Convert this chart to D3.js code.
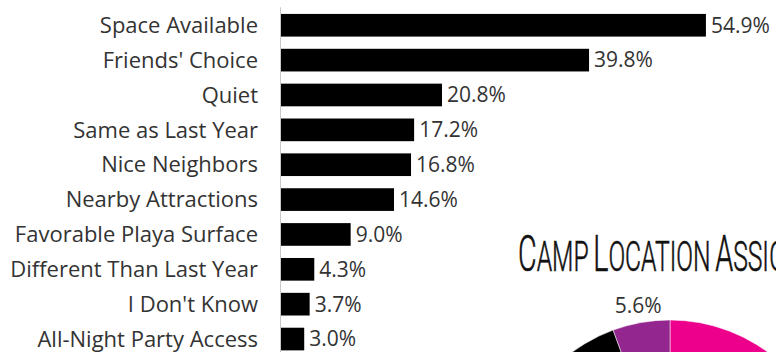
<!DOCTYPE html>
<html>
<head>
<meta charset="utf-8">
<script src="https://cdn.jsdelivr.net/npm/d3@7"></script>
<style>
  html, body { margin: 0; padding: 0; background: #fff; }
  svg { display: block; overflow: hidden; }
</style>
</head>
<body>
<svg id="chart" width="776" height="352"></svg>
<script>
// Reasons for choosing a camp location (share of respondents, %)
const categories = [
  "Space Available", "Friends' Choice", "Quiet", "Same as Last Year",
  "Nice Neighbors", "Nearby Attractions", "Favorable Playa Surface",
  "Different Than Last Year", "I Don't Know", "All-Night Party Access"
];
const values = [54.9, 39.8, 20.8, 17.2, 16.8, 14.6, 9.0, 4.3, 3.7, 3.0];

// How camp locations were assigned (%)
const pieCategories = ["Placement", "Self-Placed", "Other"];
const pieValues = [70.1, 24.3, 5.6];
const pieColors = ["#ec008c", "#000000", "#93278f"];

const titleText = "Camp Location Assignment";

const svg = d3.select("#chart");
const textColor = "#333";
const font = "'Open Sans', 'Noto Sans', sans-serif";
const W = 776, H = 352;

// ---- Horizontal bar chart ----
const x = d3.scaleLinear().domain([0, 55]).range([281, 706.7]);
const y = d3.scaleBand().domain(categories).range([7.3, 357])
  .paddingInner(0.35).paddingOuter(0.19);

const rows = categories.map((c, i) => ({ c, v: values[i] }));

svg.append("line")
  .attr("x1", 280.5).attr("x2", 280.5)
  .attr("y1", 7.3).attr("y2", H)
  .attr("stroke", "#c8c8c8").attr("stroke-width", 1);

svg.append("g").selectAll("rect").data(rows).join("rect")
  .attr("x", x(0))
  .attr("y", d => y(d.c))
  .attr("width", d => x(d.v) - x(0))
  .attr("height", y.bandwidth())
  .attr("fill", "#000");

svg.append("g").selectAll("text").data(rows).join("text")
  .attr("x", 258)
  .attr("y", d => y(d.c) + y.bandwidth() / 2)
  .attr("dy", "0.35em")
  .attr("text-anchor", "end")
  .attr("font-family", font)
  .attr("font-size", 22)
  .attr("fill", textColor)
  .text(d => d.c);

svg.append("g").selectAll("text").data(rows).join("text")
  .attr("x", d => x(d.v) + 5)
  .attr("y", d => y(d.c) + y.bandwidth() / 2)
  .attr("dy", "0.35em")
  .attr("font-family", font)
  .attr("font-size", 21)
  .attr("fill", textColor)
  .text(d => d.v.toFixed(1) + "%");

// ---- Pie chart title (small caps, condensed) ----
const titleG = svg.append("g");
function buildTitle(sel, str) {
  const t = sel.append("text")
    .attr("font-family", "Roboto, 'Liberation Sans Narrow', sans-serif")
    .attr("font-weight", 300)
    .attr("word-spacing", -4)
    .attr("stroke", "#111")
    .attr("stroke-width", 0.6)
    .attr("fill", "#111");
  str.split(" ").forEach((word, wi) => {
    const U = word.toUpperCase();
    t.append("tspan").attr("font-size", 50).text((wi > 0 ? " " : "") + U[0]);
    if (U.length > 1) t.append("tspan").attr("font-size", 43).text(U.slice(1));
  });
  return t;
}
const probe = buildTitle(svg, "Camp Location Assi");
const probeW = probe.node().getComputedTextLength();
probe.remove();
const sx = 251 / probeW;
titleG.attr("transform", `translate(518,270.7) scale(${sx},1)`);
buildTitle(titleG, titleText);

// ---- Pie chart ----
const cx = 670, cy = 485, r = 165;
const pie = d3.pie().sort(null).value(d => d.v);
const arcs = pie(pieCategories.map((c, i) => ({ c, v: pieValues[i], col: pieColors[i] })));
const arc = d3.arc().innerRadius(0).outerRadius(r);
const labelArc = d3.arc().innerRadius(182).outerRadius(182);

const pieG = svg.append("g").attr("transform", `translate(${cx},${cy})`);
pieG.selectAll("path").data(arcs).join("path")
  .attr("d", arc)
  .attr("fill", d => d.data.col)
  .attr("stroke", "#fff")
  .attr("stroke-width", 0.5);

// Slice labels sit just outside the rim; only those landing inside the frame are drawn
const visibleLabels = arcs.filter(d => {
  const [lx, ly] = labelArc.centroid(d);
  return cx + lx > 0 && cx + lx < W && cy + ly + 12 < H;
});
pieG.selectAll("text").data(visibleLabels).join("text")
  .attr("transform", d => `translate(${labelArc.centroid(d)})`)
  .attr("dy", "0.35em")
  .attr("text-anchor", "middle")
  .attr("font-family", font)
  .attr("font-size", 21)
  .attr("fill", textColor)
  .text(d => d.data.v.toFixed(1) + "%");
</script>
</body>
</html>
